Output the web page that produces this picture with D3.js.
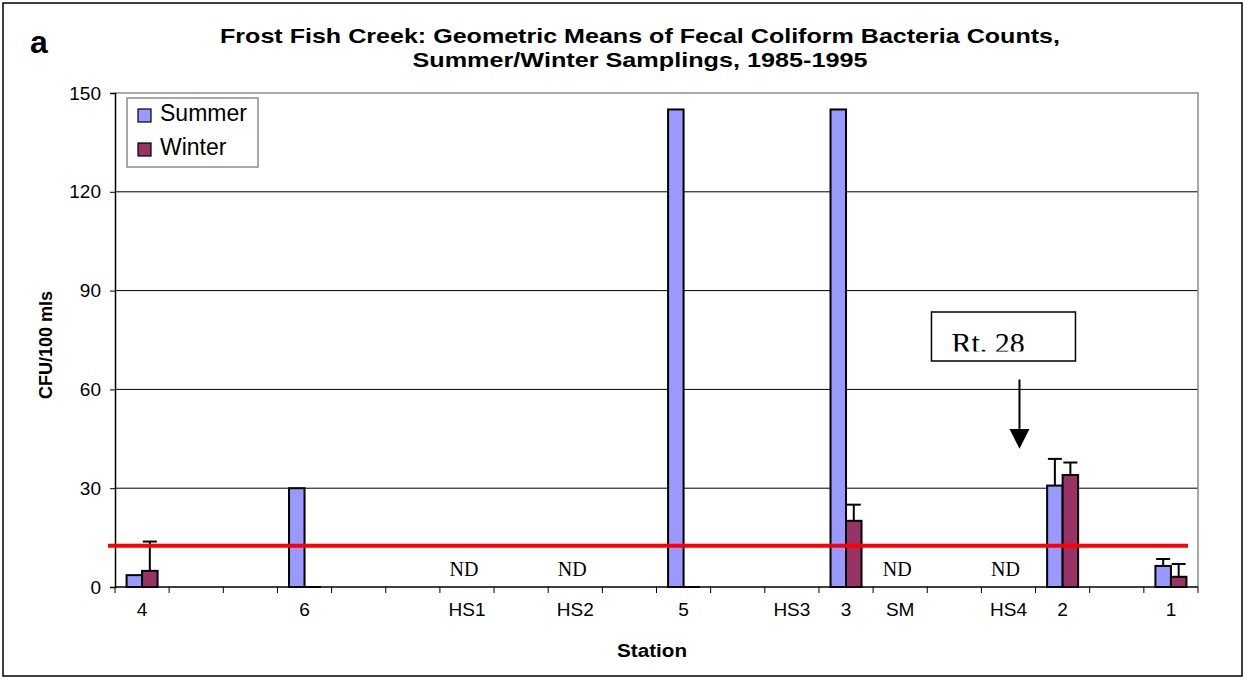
<!DOCTYPE html>
<html>
<head>
<meta charset="utf-8">
<script src="https://cdn.jsdelivr.net/npm/d3@7"></script>
<style>
  body { margin: 0; background: #fff; }
  svg { display: block; font-family: "Liberation Sans", Arial, sans-serif; }
</style>
</head>
<body>
<div id="chart"></div>
<script>
const width = 1247,
  height = 680,
  margin = { top: 93, bottom: 93, left: 115, right: 49 };

/* DATA */
// 20 category slots along the x axis, only some carry a station label
const stations = ["4", "", "", "6", "", "", "HS1", "", "HS2", "", "5", "", "HS3", "3", "SM", "", "HS4", "2", "", "1"];
const summer = [3.6, null, null, 30, null, null, null, null, null, null, 145, null, null, 145, null, null, null, 30.8, null, 6.4];
const winter = [4.9, null, null, 0, null, null, null, null, null, null, 0, null, null, 20.1, null, null, null, 34, null, 3.1];
const summerErr = [null, null, null, null, null, null, null, null, null, null, null, null, null, null, null, null, null, 38.9, null, 8.5];
const winterErr = [13.8, null, null, null, null, null, null, null, null, null, null, null, null, 25, null, null, null, 37.8, null, 7];
const ndStations = ["HS1", "HS2", "SM", "HS4"];
const yTicks = [0, 30, 60, 90, 120, 150];
const standard = 12.5;

const svg = d3.select("#chart")
  .append("svg")
  .attr("width", width)
  .attr("height", height);

// outer frame
svg.append("rect")
  .attr("x", 3).attr("y", 3)
  .attr("width", 1239).attr("height", 673)
  .attr("fill", "none")
  .attr("stroke", "#000")
  .attr("stroke-width", 1.5);

/* SCALES */
const xScale = d3.scaleBand()
  .domain(d3.range(stations.length))
  .range([margin.left, width - margin.right]);

const yScale = d3.scaleLinear()
  .domain([0, 150])
  .range([height - margin.bottom, margin.top]);

const barW = 15.5;

// gridlines
svg.append("g")
  .selectAll("line")
  .data(yTicks.filter(d => d > 0 && d < 150))
  .join("line")
  .attr("x1", margin.left).attr("x2", width - margin.right)
  .attr("y1", d => yScale(d)).attr("y2", d => yScale(d))
  .attr("stroke", "#000")
  .attr("stroke-width", 1);

// plot border (top + right, grey)
svg.append("path")
  .attr("d", `M${margin.left},${yScale(150)}H${width - margin.right}V${yScale(0)}`)
  .attr("fill", "none")
  .attr("stroke", "#8c8c8c")
  .attr("stroke-width", 1.5);

// y axis
const yAxis = d3.axisLeft(yScale).tickValues(yTicks).tickSize(5).tickPadding(9);
const yAxisGroup = svg.append("g")
  .attr("transform", `translate(${margin.left},0)`)
  .call(yAxis);
yAxisGroup.select(".domain").attr("stroke", "#000").attr("stroke-width", 1.5);
yAxisGroup.selectAll("text").attr("font-size", 19).attr("font-family", "Liberation Sans, Arial");

// x axis: labels centred in the slots, ticks on the slot boundaries
const xAxis = d3.axisBottom(xScale).tickSize(0).tickPadding(16).tickFormat(i => stations[i]);
const xAxisGroup = svg.append("g")
  .attr("transform", `translate(0,${yScale(0)})`)
  .call(xAxis);
xAxisGroup.select(".domain").remove();
xAxisGroup.selectAll("text").attr("font-size", 19).attr("font-family", "Liberation Sans, Arial");

svg.append("line")
  .attr("x1", margin.left).attr("x2", width - margin.right)
  .attr("y1", yScale(0)).attr("y2", yScale(0))
  .attr("stroke", "#000").attr("stroke-width", 1.5);

svg.append("g")
  .selectAll("line")
  .data(d3.range(stations.length + 1))
  .join("line")
  .attr("x1", i => margin.left + i * xScale.step())
  .attr("x2", i => margin.left + i * xScale.step())
  .attr("y1", yScale(0)).attr("y2", yScale(0) + 6)
  .attr("stroke", "#000");

/* BARS */
const series = [
  { name: "Summer", values: summer, err: summerErr, color: "#9999FF", offset: -barW },
  { name: "Winter", values: winter, err: winterErr, color: "#993366", offset: 0 }
];

series.forEach(s => {
  const rows = s.values.map((v, i) => ({ i, v, e: s.err[i] })).filter(d => d.v !== null);
  const cx = d => xScale(d.i) + xScale.bandwidth() / 2 + s.offset;

  svg.append("g")
    .selectAll("rect")
    .data(rows)
    .join("rect")
    .attr("x", cx)
    .attr("y", d => yScale(d.v))
    .attr("width", barW)
    .attr("height", d => Math.max(yScale(0) - yScale(d.v), 0.01))
    .attr("fill", s.color)
    .attr("stroke", "#000")
    .attr("stroke-width", 2);

  const errs = rows.filter(d => d.e !== null);
  const eb = svg.append("g").attr("stroke", "#000").attr("stroke-width", 2);
  eb.selectAll(".stem")
    .data(errs)
    .join("line")
    .attr("x1", d => cx(d) + barW / 2).attr("x2", d => cx(d) + barW / 2)
    .attr("y1", d => yScale(d.v)).attr("y2", d => yScale(d.e));
  eb.selectAll(".cap")
    .data(errs)
    .join("line")
    .attr("x1", d => cx(d) + barW / 2 - 7).attr("x2", d => cx(d) + barW / 2 + 7)
    .attr("y1", d => yScale(d.e)).attr("y2", d => yScale(d.e));
});

// ND labels
svg.append("g")
  .selectAll("text")
  .data(ndStations)
  .join("text")
  .attr("x", d => xScale(stations.indexOf(d)) + xScale.bandwidth() / 2 - 3)
  .attr("y", yScale(0) - 11)
  .attr("text-anchor", "middle")
  .attr("font-family", "Liberation Serif, Times New Roman, serif")
  .attr("font-size", 20)
  .text("ND");

// standard line (red)
svg.append("line")
  .attr("x1", margin.left - 7).attr("x2", width - margin.right - 10)
  .attr("y1", yScale(standard)).attr("y2", yScale(standard))
  .attr("stroke", "#ff0000")
  .attr("stroke-width", 4);

// Rt. 28 callout
const ax = xScale(stations.indexOf("HS4")) + xScale.bandwidth() / 2 + 11;
svg.append("line")
  .attr("x1", ax).attr("x2", ax)
  .attr("y1", yScale(63)).attr("y2", yScale(48))
  .attr("stroke", "#000").attr("stroke-width", 2);
svg.append("path")
  .attr("d", `M${ax - 10},${yScale(48)}L${ax + 10},${yScale(48)}L${ax},${yScale(42)}Z`)
  .attr("fill", "#000");

const boxTop = yScale(83.5);
svg.append("clipPath").attr("id", "rtclip")
  .append("rect")
  .attr("x", ax - 88).attr("y", boxTop)
  .attr("width", 144).attr("height", 39.5);
svg.append("rect")
  .attr("x", ax - 88).attr("y", boxTop)
  .attr("width", 144).attr("height", 49)
  .attr("fill", "#fff")
  .attr("stroke", "#000").attr("stroke-width", 1.5);
svg.append("text")
  .attr("clip-path", "url(#rtclip)")
  .attr("x", ax - 68).attr("y", boxTop + 40.5)
  .attr("font-family", "Liberation Serif, Times New Roman, serif")
  .attr("font-size", 30)
  .text("Rt. 28");

/* LEGEND */
const legend = svg.append("g").attr("transform", "translate(127,98)");
legend.append("rect")
  .attr("width", 131).attr("height", 69)
  .attr("fill", "#fff")
  .attr("stroke", "#8c8c8c").attr("stroke-width", 1.5);
const li = legend.selectAll("g")
  .data(series)
  .join("g")
  .attr("transform", (d, i) => `translate(11,${11 + i * 34})`);
li.append("rect")
  .attr("width", 13).attr("height", 13)
  .attr("fill", d => d.color)
  .attr("stroke", "#000").attr("stroke-width", 1.2);
li.append("text")
  .attr("x", 22).attr("y", 12)
  .attr("font-size", 23)
  .text(d => d.name);

/* TITLES */
svg.append("text")
  .attr("x", 30).attr("y", 53)
  .attr("font-size", 32).attr("font-weight", "bold")
  .text("a");

const title = svg.append("text")
  .attr("text-anchor", "middle")
  .attr("font-size", 21).attr("font-weight", "bold");
title.append("tspan").attr("x", 640).attr("y", 43)
  .attr("textLength", 840).attr("lengthAdjust", "spacingAndGlyphs")
  .text("Frost Fish Creek: Geometric Means of Fecal Coliform Bacteria Counts,");
title.append("tspan").attr("x", 640).attr("y", 67)
  .attr("textLength", 455).attr("lengthAdjust", "spacingAndGlyphs")
  .text("Summer/Winter Samplings, 1985-1995");

svg.append("text")
  .attr("x", 652)
  .attr("y", 657)
  .attr("text-anchor", "middle")
  .attr("font-size", 19).attr("font-weight", "bold")
  .attr("textLength", 70).attr("lengthAdjust", "spacingAndGlyphs")
  .text("Station");

svg.append("text")
  .attr("transform", `translate(52,${345}) rotate(-90)`)
  .attr("text-anchor", "middle")
  .attr("font-size", 18).attr("font-weight", "bold")
  .text("CFU/100 mls");
</script>
</body>
</html>
